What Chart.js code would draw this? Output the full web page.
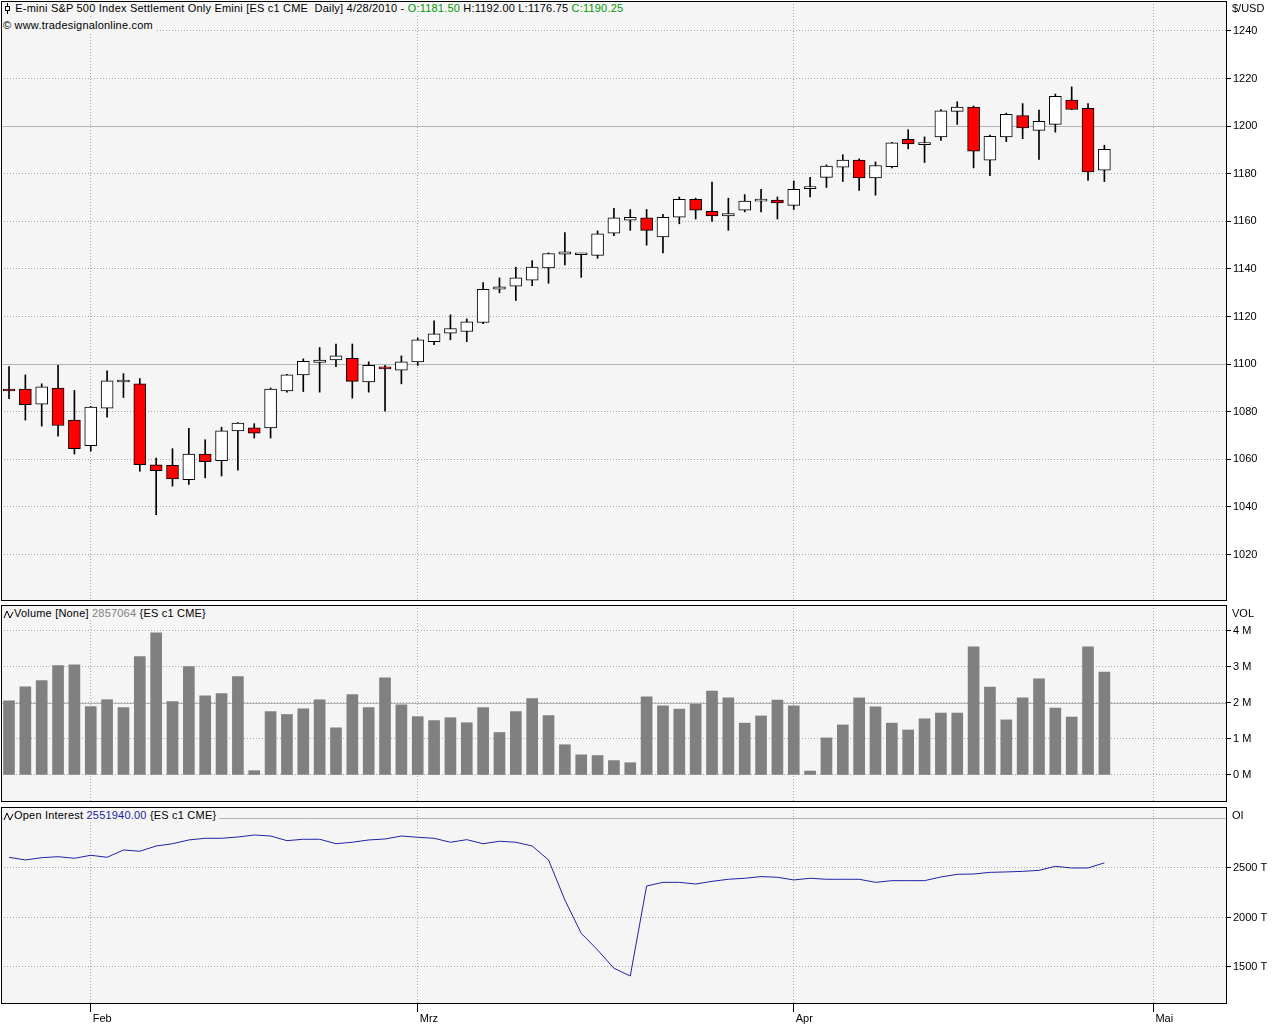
<!DOCTYPE html>
<html>
<head>
<meta charset="utf-8">
<title>E-mini S&amp;P 500 - ES c1 CME Daily</title>
<script src="https://cdn.jsdelivr.net/npm/chart.js@4.4.1/dist/chart.umd.min.js"></script>
<style>
  html, body { margin: 0; padding: 0; background: #fff; }
  body { width: 1280px; height: 1024px; position: relative; overflow: hidden;
         font-family: "Liberation Sans", Arial, sans-serif; font-size: 11px; color: #000; }
  canvas { position: absolute; left: 0; }
  .hdr { position: absolute; left: 3px; background: #f5f5f5; white-space: nowrap; line-height: 13px;
         padding-right: 3px; letter-spacing: 0.2px; }
  .unit { position: absolute; left: 1232px; line-height: 13px; }
  .green { color: #009900; }
  .grey { color: #808080; }
  .blue { color: #1c1ca0; }
  svg { vertical-align: -2px; }
</style>
</head>
<body>
<canvas id="cPrice" width="1280" height="603" style="top:0"></canvas>
<canvas id="cVol" width="1280" height="201" style="top:603px"></canvas>
<canvas id="cOI" width="1280" height="219" style="top:805px"></canvas>

<div class="hdr" style="top:2px">
  <svg width="9" height="11"><line x1="4.5" y1="0" x2="4.5" y2="11" stroke="#000"/><rect x="2.5" y="3.5" width="4" height="4" fill="#fff" stroke="#000"/></svg>
  E-mini S&amp;P 500 Index Settlement Only Emini [ES c1 CME&nbsp; Daily] <span id="hDate"></span> - <span class="green" id="hO"></span> <span id="hH"></span> <span id="hL"></span> <span class="green" id="hC"></span>
</div>
<div class="hdr" style="top:19px">&copy; www.tradesignalonline.com</div>
<div class="unit" style="top:2px">$/USD</div>

<div class="hdr" style="top:607px">
  <svg width="11" height="11"><polyline points="1,10 4,3 7,10 10,4" fill="none" stroke="#000"/></svg>Volume [None] <span class="grey" id="hVol"></span> {ES c1 CME}
</div>
<div class="unit" style="top:607px">VOL</div>

<div class="hdr" style="top:809px">
  <svg width="11" height="11"><polyline points="1,10 4,3 7,10 10,4" fill="none" stroke="#000"/></svg>Open Interest <span class="blue" id="hOI"></span> {ES c1 CME}
</div>
<div class="unit" style="top:809px">OI</div>

<script>
// trading days shown (Jan 25 - Apr 28, 2010)
const tradingDays = [
  '2010-01-25','2010-01-26','2010-01-27','2010-01-28','2010-01-29',
  '2010-02-01','2010-02-02','2010-02-03','2010-02-04','2010-02-05',
  '2010-02-08','2010-02-09','2010-02-10','2010-02-11','2010-02-12',
  '2010-02-15','2010-02-16','2010-02-17','2010-02-18','2010-02-19',
  '2010-02-22','2010-02-23','2010-02-24','2010-02-25','2010-02-26',
  '2010-03-01','2010-03-02','2010-03-03','2010-03-04','2010-03-05',
  '2010-03-08','2010-03-09','2010-03-10','2010-03-11','2010-03-12',
  '2010-03-15','2010-03-16','2010-03-17','2010-03-18','2010-03-19',
  '2010-03-22','2010-03-23','2010-03-24','2010-03-25','2010-03-26',
  '2010-03-29','2010-03-30','2010-03-31',
  '2010-04-01','2010-04-02','2010-04-05','2010-04-06','2010-04-07',
  '2010-04-08','2010-04-09','2010-04-12','2010-04-13','2010-04-14',
  '2010-04-15','2010-04-16','2010-04-19','2010-04-20','2010-04-21',
  '2010-04-22','2010-04-23','2010-04-26','2010-04-27','2010-04-28'
];

const opens = [
  1089.5, 1089.5, 1083.25, 1090, 1076.5, 1065.75, 1081.5, 1092.5, 1091.75, 1057.75,
  1057.5, 1051.5, 1062.25, 1059.5, 1072, 1073.25, 1073.25, 1088.75, 1095.5, 1100.75,
  1101.75, 1102.5, 1092.5, 1098.75, 1097.5, 1101, 1109.5, 1113, 1113.75, 1117.5,
  1131.5, 1132.75, 1135.25, 1140.5, 1146.25, 1146, 1145.75, 1155, 1160.5, 1161.5,
  1153.5, 1161.75, 1169.25, 1164.25, 1162.25, 1164.75, 1168.5, 1169, 1166.75, 1173.75,
  1178.5, 1182.75, 1185.75, 1178.25, 1183, 1194.5, 1192.25, 1195.5, 1206.25, 1208,
  1185.75, 1195.5, 1204.5, 1198.25, 1200.75, 1211, 1207.5, 1181.5
];
const highs = [
  1099, 1095.5, 1091.75, 1099.5, 1089, 1082.25, 1097.25, 1096, 1094, 1060.5,
  1064.5, 1073, 1068.25, 1073.5, 1075.5, 1075, 1090, 1095.75, 1102.25, 1107,
  1108.5, 1108.5, 1101, 1099.5, 1103.5, 1111, 1118.25, 1120.75, 1119, 1134.25,
  1136.25, 1140.75, 1143.5, 1146.75, 1155.25, 1146.25, 1156, 1165.5, 1165, 1165,
  1163, 1170.25, 1169.75, 1176.5, 1169.75, 1171.25, 1173.5, 1170.25, 1177, 1178.5,
  1183.75, 1188, 1186.25, 1185, 1193.25, 1198.5, 1195.5, 1207, 1210.25, 1208.5,
  1196.25, 1205.5, 1209.5, 1206.75, 1213.5, 1216.5, 1209.5, 1192
];
const lows = [
  1085.5, 1076.5, 1074, 1069.75, 1062.25, 1063.5, 1077.75, 1086, 1055, 1036.75,
  1048.75, 1049.5, 1052.25, 1053, 1055.5, 1069, 1069, 1088.25, 1088.5, 1088.25,
  1099, 1085.75, 1088.25, 1080.25, 1091.75, 1099.5, 1108.25, 1110.25, 1109.5, 1117,
  1130, 1126.75, 1133, 1134, 1141.75, 1136.5, 1144.5, 1154, 1156.25, 1150,
  1146.75, 1159, 1161, 1160, 1156.25, 1164, 1164, 1161, 1165, 1170.25,
  1174.25, 1176.75, 1173, 1171, 1182.5, 1190.5, 1184.75, 1194, 1200.75, 1182.5,
  1179.25, 1193.5, 1194.75, 1186, 1197.5, 1207, 1177.25, 1176.75
];
const closes = [
  1088.75, 1083, 1090.5, 1074.25, 1064.5, 1082, 1093, 1092.5, 1057.75, 1055.25,
  1051.75, 1062.25, 1059, 1072, 1075.25, 1071, 1089.5, 1095.5, 1101.25, 1101.75,
  1103.5, 1092.75, 1099.5, 1098, 1101, 1110.25, 1112.75, 1115, 1117.75, 1131.5,
  1132.5, 1136.25, 1140.75, 1146.5, 1147.25, 1146, 1154.75, 1161.5, 1161.75, 1156.25,
  1161.75, 1169.25, 1164.75, 1162.25, 1163.25, 1168.5, 1169.25, 1167.75, 1173.5, 1173.75,
  1183.25, 1185.75, 1178.25, 1183.5, 1193, 1192.5, 1192.25, 1206.5, 1208, 1189.5,
  1195.75, 1205, 1199.25, 1202, 1212.5, 1207, 1180.75, 1190.25
];

// contracts
const volumes = [
  2060000, 2450000, 2620000, 3040000, 3060000, 1900000, 2090000, 1870000, 3290000, 3950000,
  2040000, 3010000, 2200000, 2260000, 2730000, 120000, 1760000, 1680000, 1840000, 2090000,
  1310000, 2230000, 1870000, 2700000, 1950000, 1620000, 1510000, 1590000, 1450000, 1870000,
  1180000, 1760000, 2120000, 1650000, 840000, 560000, 540000, 400000, 340000, 2170000,
  1920000, 1830000, 1970000, 2330000, 2140000, 1440000, 1640000, 2080000, 1920000, 110000,
  1030000, 1390000, 2140000, 1890000, 1440000, 1250000, 1560000, 1720000, 1720000, 3560000,
  2440000, 1530000, 2140000, 2670000, 1860000, 1610000, 3560000, 2857064
];
const openInterest = [
  2608000, 2581000, 2604000, 2614000, 2598000, 2628000, 2608000, 2682000, 2669000, 2722000,
  2745000, 2783000, 2800000, 2800000, 2813000, 2833000, 2823000, 2776000, 2790000, 2790000,
  2745000, 2760000, 2783000, 2793000, 2823000, 2810000, 2800000, 2760000, 2786000, 2745000,
  2770000, 2760000, 2722000, 2581000, 2177000, 1840000, 1672000, 1487000, 1409000, 2318000,
  2355000, 2355000, 2338000, 2365000, 2386000, 2396000, 2413000, 2406000, 2379000, 2396000,
  2386000, 2386000, 2386000, 2355000, 2372000, 2372000, 2372000, 2409000, 2436000, 2439000,
  2456000, 2460000, 2466000, 2476000, 2517000, 2500000, 2500000, 2551940
];

const priceTicks = [1020, 1040, 1060, 1080, 1100, 1120, 1140, 1160, 1180, 1200, 1220, 1240];
const volTicks = [0, 1000000, 2000000, 3000000, 4000000];
const oiTicks = [1500000, 2000000, 2500000];
const monthTicks = [5, 25, 48, 70];
const monthLabels = ['Feb', 'Mrz', 'Apr', 'Mai'];
const priceLevels = [1100, 1200];
const volLevels = [2000000];
const oiLevels = [3000000];

// header texts
const last = tradingDays.length - 1;
const [yy, mm, dd] = tradingDays[last].split('-');
document.getElementById('hDate').textContent = `${+mm}/${+dd}/${yy}`;
document.getElementById('hO').textContent = 'O:' + opens[last].toFixed(2);
document.getElementById('hH').textContent = 'H:' + highs[last].toFixed(2);
document.getElementById('hL').textContent = 'L:' + lows[last].toFixed(2);
document.getElementById('hC').textContent = 'C:' + closes[last].toFixed(2);
document.getElementById('hVol').textContent = volumes[last];
document.getElementById('hOI').textContent = openInterest[last].toFixed(2);

Chart.defaults.font.family = '"Liberation Sans", Arial, sans-serif';
Chart.defaults.font.size = 11;
Chart.defaults.color = '#000';

const PLOT_BG = '#f5f5f5';
const GRID = '#a8a8a8';

// plot background, solid level lines and frame
const panelPlugin = {
  id: 'panel',
  beforeDraw(chart) {
    const { ctx, chartArea: a } = chart;
    ctx.save();
    ctx.fillStyle = PLOT_BG;
    ctx.fillRect(a.left, a.top, a.width, a.height);
    ctx.restore();
  },
  beforeDatasetsDraw(chart, args, opts) {
    const { ctx, chartArea: a } = chart;
    const y = chart.scales.y;
    ctx.save();
    ctx.strokeStyle = '#b4b4b4';
    ctx.lineWidth = 1;
    (opts.levels || []).forEach(v => {
      const py = Math.round(y.getPixelForValue(v)) + 0.5;
      ctx.beginPath();
      ctx.moveTo(a.left, py);
      ctx.lineTo(a.right, py);
      ctx.stroke();
    });
    ctx.restore();
  },
  afterDraw(chart) {
    const { ctx, chartArea: a } = chart;
    ctx.save();
    ctx.strokeStyle = '#000';
    ctx.lineWidth = 1;
    ctx.strokeRect(a.left + 0.5, a.top + 0.5, a.width - 1, a.height - 1);
    ctx.restore();
  }
};

function xScale(showDates) {
  return {
    type: 'linear',
    min: -0.49,
    max: 74.5,
    bounds: 'data',
    offset: false,
    afterBuildTicks: s => { s.ticks = monthTicks.map(v => ({ value: v })); },
    afterFit: s => { s.height = showDates ? 20 : 0; s.paddingLeft = 0; s.paddingRight = 0; },
    grid: { offset: false, color: GRID, drawTicks: showDates, tickLength: 8, tickColor: '#000' },
    border: { display: false, dash: [1, 2] },
    ticks: {
      display: showDates, autoSkip: false, maxRotation: 0, align: 'start',
      labelOffset: 2, padding: 0, color: '#000',
      callback: v => monthLabels[monthTicks.indexOf(v)]
    }
  };
}

function yScale(min, max, tickValues, fmt) {
  return {
    type: 'linear',
    position: 'right',
    min: min,
    max: max,
    bounds: 'data',
    afterBuildTicks: s => { s.ticks = tickValues.map(v => ({ value: v })); },
    afterFit: s => { s.width = 53; s.paddingTop = 0; s.paddingBottom = 0; },
    grid: { color: GRID, tickLength: 4, tickColor: '#000' },
    border: { display: false, dash: [1, 2] },
    ticks: { color: '#000', padding: 2, callback: fmt }
  };
}

function options(y, pad, showDates, levels) {
  return {
    responsive: false,
    animation: false,
    events: [],
    layout: { padding: pad },
    plugins: { legend: { display: false }, tooltip: { enabled: false }, panel: { levels: levels } },
    scales: { x: xScale(showDates), y: y }
  };
}

// price candles: bodies drawn over wicks
new Chart(document.getElementById('cPrice'), {
  type: 'bar',
  data: {
    datasets: [
      {
        data: tradingDays.map((d, i) => ({ x: i, y: [opens[i], closes[i]] })),
        backgroundColor: tradingDays.map((d, i) => closes[i] >= opens[i] ? '#ffffff' : '#ff0000'),
        borderColor: '#000',
        borderWidth: 1,
        borderSkipped: false,
        barThickness: 12,
        minBarLength: 2,
        grouped: false,
        order: 0
      },
      {
        data: tradingDays.map((d, i) => ({ x: i, y: [lows[i], highs[i]] })),
        backgroundColor: '#000',
        borderWidth: 0,
        barThickness: 1,
        grouped: false,
        order: 1
      }
    ]
  },
  options: options(yScale(1000.5, 1252.6, priceTicks, v => String(v)),
                   { left: 1, top: 1, bottom: 2, right: 0 }, false, priceLevels),
  plugins: [panelPlugin]
});

new Chart(document.getElementById('cVol'), {
  type: 'bar',
  data: {
    datasets: [{
      data: tradingDays.map((d, i) => ({ x: i, y: volumes[i] })),
      backgroundColor: '#808080',
      borderWidth: 0,
      barThickness: 11,
      grouped: false
    }]
  },
  options: options(yScale(-750000, 4720000, volTicks, v => (v / 1000000) + ' M'),
                   { left: 1, top: 2, bottom: 2, right: 0 }, false, volLevels),
  plugins: [panelPlugin]
});

new Chart(document.getElementById('cOI'), {
  type: 'line',
  data: {
    datasets: [{
      data: tradingDays.map((d, i) => ({ x: i, y: openInterest[i] })),
      borderColor: '#2222a8',
      borderWidth: 1,
      pointRadius: 0,
      tension: 0,
      fill: false
    }]
  },
  options: options(yScale(1126000, 3116000, oiTicks, v => (v / 1000) + ' T'),
                   { left: 1, top: 2, bottom: 0, right: 0 }, true, oiLevels),
  plugins: [panelPlugin]
});
</script>
</body>
</html>
